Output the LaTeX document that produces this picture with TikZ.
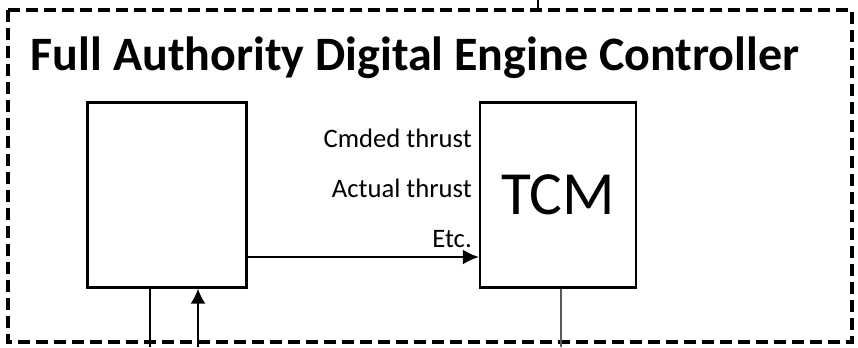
\documentclass[tikz,border=0pt]{standalone}
\usepackage{fontspec}
\setmainfont{Carlito}
\usetikzlibrary{arrows.meta}

\tikzset{
  frame/.style={dash pattern=on 9pt off 4.5pt, line width=3pt},
  box/.style={draw, line width=1.8pt, minimum width=119pt, minimum height=139pt, font=\fontsize{46}{46}\selectfont},
  link/.style={line width=0.9pt}
}

\begin{document}
\begin{tikzpicture}[x=0.75pt,y=-0.75pt]
\useasboundingbox (0,0) rectangle (858,347);

\draw[frame] (8,10) rectangle (852,342);

\draw
(415,70) node[anchor=base, font=\fontsize{36}{38}\selectfont\bfseries](title){Full Authority Digital Engine Controller}
(167,195) node[box](ctrl){}
(558,195) node[box, minimum width=117pt](tcm){TCM}
(472,188) node[anchor=east, inner sep=0pt, align=right, font=\fontsize{20}{37.5}\selectfont](sig){Cmded thrust\\Actual thrust\\Etc.};

\coordinate (b1) at (150,347);
\coordinate (b2) at (198,347);
\coordinate (b3) at (561,347);
\coordinate (t0) at (538,10);
\coordinate (t1) at (538,0);

\draw[link, -{Latex[length=12pt,width=11pt]}] (ctrl.east |- 0,257) -- (tcm.west |- 0,257);
\draw[link] (ctrl.south -| b1) -- (b1);
\draw[link, {Latex[length=11pt,width=11pt]}-] (ctrl.south -| b2) -- (b2);
\draw[link, gray!70!black] (tcm.south -| b3) -- (b3);
\draw[link] (t0) -- (t1);

\end{tikzpicture}
\end{document}
